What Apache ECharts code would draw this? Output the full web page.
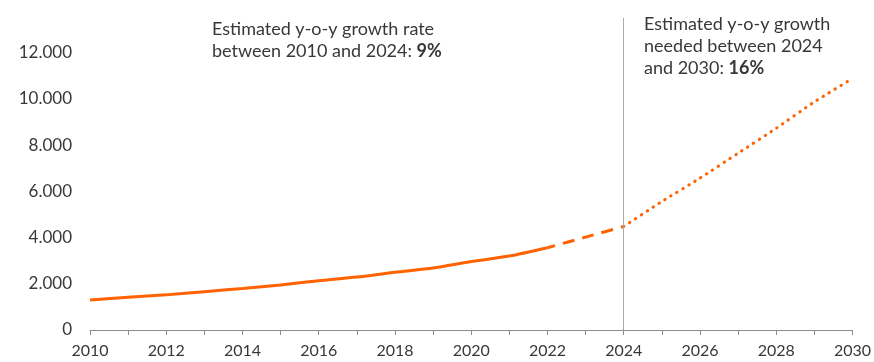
<!DOCTYPE html>
<html><head><meta charset="utf-8">
<script src="https://cdn.jsdelivr.net/npm/echarts@6/dist/echarts.min.js"></script>
<style>html,body{margin:0;padding:0;background:#fff}#c{width:874px;height:362px}</style>
</head><body><div id="c"></div>
<script>
const years = ['2010','2011','2012','2013','2014','2015','2016','2017','2018','2019','2020','2021','2022','2023','2024','2025','2026','2027','2028','2029','2030'];
const historic = [1300,1420,1520,1660,1800,1950,2130,2290,2500,2680,2960,3200,3560,null,null,null,null,null,null,null,null];
const bridge = [null,null,null,null,null,null,null,null,null,null,null,null,3560,4020,4480,null,null,null,null,null,null];
const needed = [null,null,null,null,null,null,null,null,null,null,null,null,null,null,4480,5560,6570,7650,8730,9870,10880];
const yTicks = [0,2000,4000,6000,8000,10000,12000];
const noteLeft = ['Estimated y-o-y growth rate', 'between 2010 and 2024: ', '9%'];
const noteRight = ['Estimated y-o-y growth', 'needed between 2024', 'and 2030: ', '16%'];
const ORANGE = '#FF6200';
const FONT = 'Lato, "Noto Sans", sans-serif';
const TXT = '#383838';
const chart = echarts.init(document.getElementById('c'));
chart.setOption({
  animation: false,
  grid: {left: 90, right: 21, top: 18, bottom: 32, containLabel: false},
  xAxis: {
    type: 'category', data: years, boundaryGap: false,
    axisLine: {lineStyle: {color: '#8c8c8c', width: 1}},
    axisTick: {interval: 0, length: 5, lineStyle: {color: '#8c8c8c'}},
    axisLabel: {interval: 1, color: TXT, fontSize: 16, fontFamily: FONT, margin: 13}
  },
  yAxis: {
    type: 'value', min: 0, max: 13500, interval: 2000,
    axisLine: {show: false}, axisTick: {show: false}, splitLine: {show: false},
    axisLabel: {color: TXT, fontSize: 17, fontFamily: FONT, margin: 18,
      formatter: v => yTicks.indexOf(v) >= 0 ? (v >= 1000 ? (v/1000) + '.000' : String(v)) : ''}
  },
  series: [
    {type: 'line', data: historic, smooth: 0.25, showSymbol: false, connectNulls: false,
     lineStyle: {color: ORANGE, width: 3},
     markLine: {silent: true, symbol: 'none', label: {show: false},
       lineStyle: {color: '#aaaaaa', width: 1, type: 'solid'},
       data: [[{coord: ['2024', 0]}, {coord: ['2024', 13500]}]]}},
    {type: 'line', data: bridge, smooth: 0.25, showSymbol: false,
     lineStyle: {color: ORANGE, width: 3, type: [12, 8], dashOffset: 4}},
    {type: 'line', data: needed, smooth: 0.2, showSymbol: false,
     lineStyle: {color: ORANGE, width: 3, type: [0.5, 6.5], cap: 'round'}}
  ],
  graphic: [
    {type: 'text', left: 212, top: 18, style: {
      text: noteLeft[0] + '\n' + noteLeft[1] + '{b|' + noteLeft[2] + '}',
      font: '18px ' + FONT, fill: TXT, lineHeight: 22,
      rich: {b: {fontWeight: 'bold', fontSize: 18, fontFamily: FONT, fill: TXT, lineHeight: 22}}}},
    {type: 'text', left: 644, top: 13, style: {
      text: noteRight[0] + '\n' + noteRight[1] + '\n' + noteRight[2] + '{b|' + noteRight[3] + '}',
      font: '18px ' + FONT, fill: TXT, lineHeight: 22,
      rich: {b: {fontWeight: 'bold', fontSize: 18, fontFamily: FONT, fill: TXT, lineHeight: 22}}}}
  ]
});
</script></body></html>
